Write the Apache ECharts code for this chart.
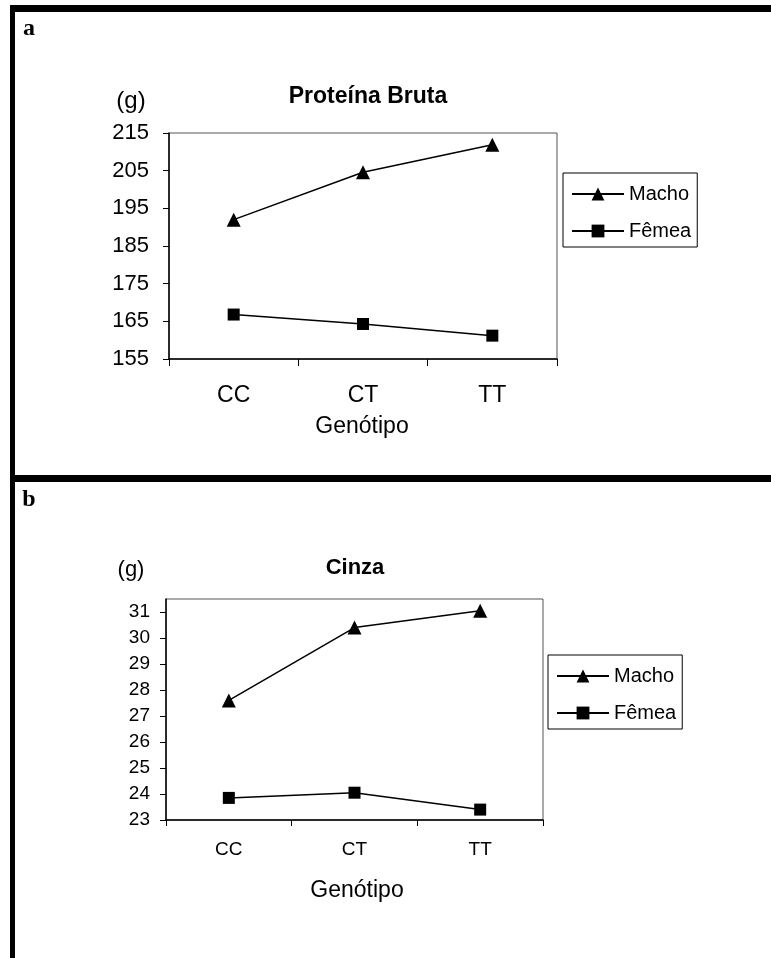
<!DOCTYPE html>
<html>
<head>
<meta charset="utf-8">
<script src="https://cdn.jsdelivr.net/npm/echarts@6/dist/echarts.min.js"></script>
<style>
html,body{margin:0;padding:0;background:#fff;}
#chart{width:771px;height:958px;}
</style>
</head>
<body>
<div id="chart"></div>
<script>
// ---- data ----
var categories = ['CC', 'CT', 'TT'];
var seriesNames = ['Macho', 'Fêmea'];
var protMacho = [192.0, 204.6, 211.9];
var protFemea = [166.8, 164.3, 161.2];
var cinzaMacho = [27.6, 30.4, 31.05];
var cinzaFemea = [23.85, 24.05, 23.4];
var protTicks = [155, 165, 175, 185, 195, 205, 215];
var cinzaTicks = [23, 24, 25, 26, 27, 28, 29, 30, 31];
var protRange = [155, 215];
var cinzaRange = [23, 31.5];

var FONT = '"Liberation Sans", Arial, sans-serif';
var SERIF = '"Liberation Serif", "Times New Roman", serif';

var chart = echarts.init(document.getElementById('chart'), null, {renderer: 'canvas'});

function txt(text, x, y, size, bold, family) {
  return {
    type: 'text', x: x, y: y,
    style: {
      text: text, fill: '#000',
      font: (bold ? 'bold ' : '') + size + 'px ' + (family || FONT),
      textAlign: 'center', textVerticalAlign: 'middle'
    }
  };
}

function lineSeries(name, data, xi, sym, size) {
  return {
    type: 'line', name: name, data: data,
    xAxisIndex: xi, yAxisIndex: xi,
    symbol: sym, symbolSize: size, showSymbol: true,
    lineStyle: {color: '#000', width: 1.5},
    itemStyle: {color: '#000'},
    emphasis: {disabled: true},
    animation: false
  };
}

function legendAt(left, top) {
  return {orient: 'vertical', left: left, top: top, data: seriesNames,
    selectedMode: false, itemWidth: 52, itemHeight: 16, itemGap: 17,
    padding: [11, 6, 6, 8], borderColor: '#000', borderWidth: 1, backgroundColor: '#fff',
    textStyle: {color: '#000', fontFamily: FONT, fontSize: 20}};
}

var option = {
  backgroundColor: '#fff',
  animation: false,
  grid: [
    {left: 169, top: 133, width: 388, height: 226, show: true, borderColor: '#555', borderWidth: 1, backgroundColor: '#fff'},
    {left: 166, top: 599, width: 377, height: 221, show: true, borderColor: '#555', borderWidth: 1, backgroundColor: '#fff'}
  ],
  xAxis: [
    {type: 'category', gridIndex: 0, data: categories, boundaryGap: true,
     axisLine: {lineStyle: {color: '#000', width: 1.5}},
     axisTick: {show: true, length: 7, lineStyle: {color: '#000'}},
     axisLabel: {color: '#000', fontFamily: FONT, fontSize: 23, margin: 25},
     splitLine: {show: false}},
    {type: 'category', gridIndex: 1, data: categories, boundaryGap: true,
     axisLine: {lineStyle: {color: '#000', width: 1.5}},
     axisTick: {show: true, length: 6, lineStyle: {color: '#000'}},
     axisLabel: {color: '#000', fontFamily: FONT, fontSize: 19, margin: 20},
     splitLine: {show: false}}
  ],
  yAxis: [
    {type: 'value', gridIndex: 0, min: protRange[0], max: protRange[1],
     axisLine: {show: true, lineStyle: {color: '#000', width: 1.5}},
     axisTick: {show: true, length: 6, lineStyle: {color: '#000'}, customValues: protTicks},
     axisLabel: {color: '#000', fontFamily: FONT, fontSize: 22, margin: 20, customValues: protTicks},
     splitLine: {show: false}},
    {type: 'value', gridIndex: 1, min: cinzaRange[0], max: cinzaRange[1],
     axisLine: {show: true, lineStyle: {color: '#000', width: 1.5}},
     axisTick: {show: true, length: 6, lineStyle: {color: '#000'}, customValues: cinzaTicks},
     axisLabel: {color: '#000', fontFamily: FONT, fontSize: 19, margin: 16, customValues: cinzaTicks},
     splitLine: {show: false}}
  ],
  legend: [legendAt(563, 173), legendAt(548, 655)],
  series: [
    lineSeries(seriesNames[0], protMacho, 0, 'triangle', 14),
    lineSeries(seriesNames[1], protFemea, 0, 'rect', 12),
    lineSeries(seriesNames[0], cinzaMacho, 1, 'triangle', 14),
    lineSeries(seriesNames[1], cinzaFemea, 1, 'rect', 12)
  ],
  graphic: [
    {type: 'rect', shape: {x: 10, y: 5, width: 761, height: 7}, style: {fill: '#000'}},
    {type: 'rect', shape: {x: 10, y: 5, width: 5, height: 953}, style: {fill: '#000'}},
    {type: 'rect', shape: {x: 10, y: 475, width: 761, height: 7}, style: {fill: '#000'}},
    txt('a', 29, 29, 24, true, SERIF),
    txt('b', 29, 500, 24, true, SERIF),
    txt('(g)', 131, 101, 24, false),
    txt('Proteína Bruta', 368, 97, 23, true),
    txt('Genótipo', 362, 427, 23, false),
    txt('(g)', 131, 570, 22, false),
    txt('Cinza', 355, 568, 22, true),
    txt('Genótipo', 357, 891, 23, false)
  ]
};
chart.setOption(option);
</script>
</body>
</html>
